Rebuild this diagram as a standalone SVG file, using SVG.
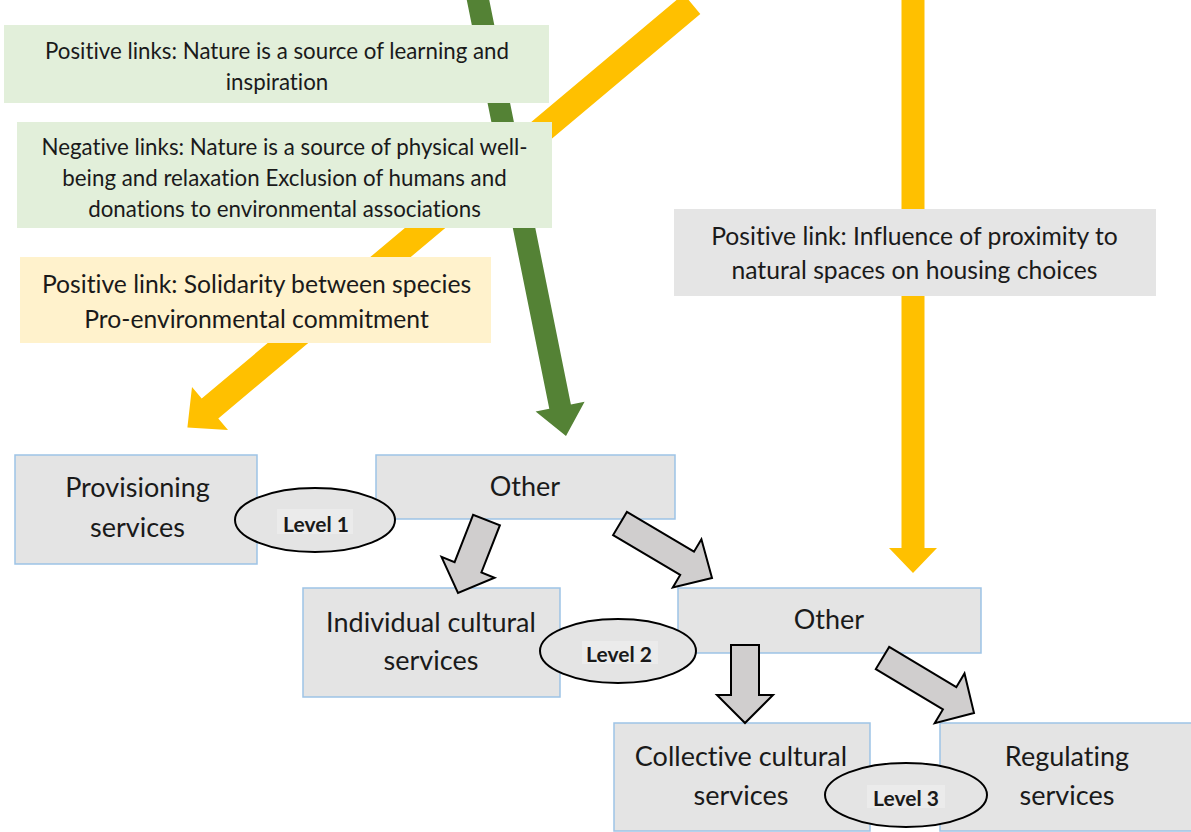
<svg xmlns="http://www.w3.org/2000/svg" width="1191" height="832" viewBox="0 0 1191 832">
  <style>
    text { font-family: Lato, "Open Sans", "Liberation Sans", sans-serif; fill: #1a1a1a; text-anchor: middle; font-variant-ligatures: none; }
    .note { font-size: 22.3px; }
    .note-lg { font-size: 24.7px; }
    .svc { font-size: 27px; }
    .lvl { font-size: 21px; font-weight: bold; }
    .green-box { fill: #e2efda; }
    .amber-box { fill: #fff2cc; }
    .grey-box { fill: #e5e5e5; }
    .service { fill: #e4e4e4; stroke: #9dc3e6; stroke-width: 1.5; }
    .level { fill: #e4e4e4; stroke: #000; stroke-width: 2; }
    .level-tag { fill: #ebebeb; }
    .flow { fill: #d0cece; stroke: #000; stroke-width: 2; stroke-linejoin: miter; }
    .link-green { fill: #548235; }
    .link-amber { fill: #ffc000; }
  </style>

  <rect width="1191" height="832" fill="#ffffff"/>

  <!-- wide coloured link arrows (behind the annotation boxes) -->
  <g id="connectors">
    <polygon id="link-green" class="link-green" points="466.2,-2.8 549.3,408.8 535.6,411.5 566,436 584.6,401.7 570.9,404.4 487.8,-7.2"/>
    <polygon id="link-amber-diagonal" class="link-amber" points="683.7,-6 201.7,398.5 192,387 187.4,427.4 228,430 218.3,418.5 700.3,14"/>
    <polygon id="link-amber-vertical" class="link-amber" points="901.5,-5 901.5,548 889,548 913,573 937,548 924.5,548 924.5,-5"/>
  </g>

  <!-- annotation boxes -->
  <g id="note-learning">
    <rect class="green-box" x="4" y="25" width="545" height="78"/>
    <text class="note" x="277" y="59">Positive links: Nature is a source of learning and</text>
    <text class="note" x="277" y="90">inspiration</text>
  </g>
  <g id="note-wellbeing">
    <rect class="green-box" x="17" y="122" width="535" height="106"/>
    <text class="note" x="284.5" y="155">Negative links: Nature is a source of physical well-</text>
    <text class="note" x="284.5" y="186">being and relaxation Exclusion of humans and</text>
    <text class="note" x="284.5" y="217">donations to environmental associations</text>
  </g>
  <g id="note-solidarity">
    <rect class="amber-box" x="20" y="257" width="471" height="86"/>
    <text class="note-lg" x="256.5" y="293">Positive link: Solidarity between species</text>
    <text class="note-lg" x="256.5" y="328">Pro-environmental commitment</text>
  </g>
  <g id="note-housing">
    <rect class="grey-box" x="674" y="209" width="482" height="87"/>
    <text class="note-lg" x="914.5" y="245">Positive link: Influence of proximity to</text>
    <text class="note-lg" x="914.5" y="279">natural spaces on housing choices</text>
  </g>

  <!-- service nodes -->
  <g id="provisioning">
    <rect class="service" x="15" y="455" width="242" height="109"/>
    <text class="svc" x="137.5" y="497">Provisioning</text>
    <text class="svc" x="137.5" y="537">services</text>
  </g>
  <g id="other-1">
    <rect class="service" x="376" y="455" width="299" height="64"/>
    <text class="svc" x="525" y="496">Other</text>
  </g>
  <g id="individual-cultural">
    <rect class="service" x="303" y="588" width="257" height="109"/>
    <text class="svc" x="431" y="632">Individual cultural</text>
    <text class="svc" x="431" y="670">services</text>
  </g>
  <g id="other-2">
    <rect class="service" x="678" y="588" width="303" height="65"/>
    <text class="svc" x="829" y="629">Other</text>
  </g>
  <g id="collective-cultural">
    <rect class="service" x="614" y="723" width="256" height="108"/>
    <text class="svc" x="741" y="766">Collective cultural</text>
    <text class="svc" x="741" y="805">services</text>
  </g>
  <g id="regulating">
    <rect class="service" x="940" y="723" width="260" height="108"/>
    <text class="svc" x="1067" y="766">Regulating</text>
    <text class="svc" x="1067" y="805">services</text>
  </g>

  <!-- block arrows between levels -->
  <g id="connectors-flow">
    <polygon class="flow" points="473.1,514.8 454.6,562.1 441.5,556.9 458,593 494.5,577.7 481.4,572.5 499.9,525.2"/>
    <polygon class="flow" points="626.9,511.9 694,551.7 701.4,539.2 712,578 672.8,587.4 680.2,574.9 613.1,535.1"/>
    <polygon class="flow" points="731,645 759,645 759,695 773,695 745,723 717,695 731,695"/>
    <polygon class="flow" points="889.2,646.9 956.3,687.2 964.5,673.4 974,713 934.7,723.2 942.9,709.4 875.8,669.1"/>
  </g>

  <!-- level markers -->
  <g id="level-1">
    <ellipse class="level" cx="315" cy="520" rx="80" ry="32"/>
    <rect class="level-tag" x="277" y="509" width="76" height="25"/>
    <text class="lvl" x="316" y="532">Level 1</text>
  </g>
  <g id="level-2">
    <ellipse class="level" cx="618" cy="651" rx="78" ry="32"/>
    <rect class="level-tag" x="582" y="641" width="76" height="23"/>
    <text class="lvl" x="619" y="662">Level 2</text>
  </g>
  <g id="level-3">
    <ellipse class="level" cx="906" cy="795" rx="81" ry="32"/>
    <rect class="level-tag" x="867" y="785" width="78" height="23"/>
    <text class="lvl" x="906" y="806">Level 3</text>
  </g>
</svg>
